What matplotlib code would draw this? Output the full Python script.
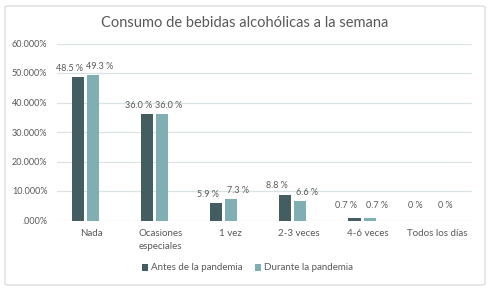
import numpy as np
import matplotlib.pyplot as plt
from matplotlib.patches import FancyBboxPatch

categories = ["Nada", "Ocasiones\nespeciales", "1 vez", "2-3 veces", "4-6 veces", "Todos los días"]
antes = [48.5, 36.0, 5.9, 8.8, 0.7, 0.0]
durante = [49.3, 36.0, 7.3, 6.6, 0.7, 0.0]
yticks = [0, 10, 20, 30, 40, 50, 60]
ytick_labels = [".000%", "10.000%", "20.000%", "30.000%", "40.000%", "50.000%", "60.000%"]

c_antes = "#435d61"
c_durante = "#7faeb3"
txt = "#595959"
grid_c = "#d9e2e4"

plt.rcParams["font.family"] = ["Lato", "DejaVu Sans"]

fig = plt.figure(figsize=(4.9, 2.91), dpi=100)
ax = fig.add_axes([57 / 490, 1 - 220.5 / 291, 415 / 490, 177 / 291])

x = np.arange(len(categories))
w = 0.175
shift = -0.09
b1 = ax.bar(x + shift - w / 2 - 0.022, antes, w, color=c_antes, label="Antes de la pandemia", zorder=3)
b2 = ax.bar(x + shift + w / 2 + 0.022, durante, w, color=c_durante, label="Durante la pandemia", zorder=3)

def fmt(v):
    return "0 %" if v == 0 else f"{v:.1f} %"

# spread the labels apart so the pair does not collide
for bars, vals, dx in [(b1, antes, -6), (b2, durante, 5)]:
    for bar, v in zip(bars, vals):
        ax.annotate(fmt(v), (bar.get_x() + bar.get_width() / 2, max(v, 2.2)),
                    xytext=(dx, 3), textcoords="offset points",
                    ha="center", va="bottom", fontsize=6.5, color=txt)

ax.set_xlim(-0.5, len(categories) - 0.5)
ax.set_ylim(0, 60)
ax.set_yticks(yticks)
ax.set_yticklabels(ytick_labels, fontsize=6.5, color=txt)
ax.set_xticks(x)
ax.set_xticklabels(categories, fontsize=7, color=txt, linespacing=1.6)
ax.tick_params(axis="x", length=0, pad=6)
ax.tick_params(axis="y", length=0, pad=7)
ax.grid(axis="y", color=grid_c, linewidth=0.9, zorder=0)
for s in ax.spines.values():
    s.set_visible(False)

fig.text(0.5, 1 - 23 / 291, "Consumo de bebidas alcohólicas a la semana",
         ha="center", va="center", fontsize=10.5, color=txt)

fig.legend(loc="center", bbox_to_anchor=(0.505, 1 - 268 / 291), ncol=2, frameon=False,
           fontsize=7, labelcolor=txt, handlelength=0.7, handleheight=0.7,
           handletextpad=0.3, columnspacing=1.2)

border = FancyBboxPatch((5 / 490, 6 / 291), 480 / 490, 279 / 291,
                        boxstyle="round,pad=0,rounding_size=0.005",
                        transform=fig.transFigure, fill=False,
                        edgecolor="#d9d9d9", linewidth=0.9)
fig.patches.append(border)

fig.savefig("out.png", dpi=100)
